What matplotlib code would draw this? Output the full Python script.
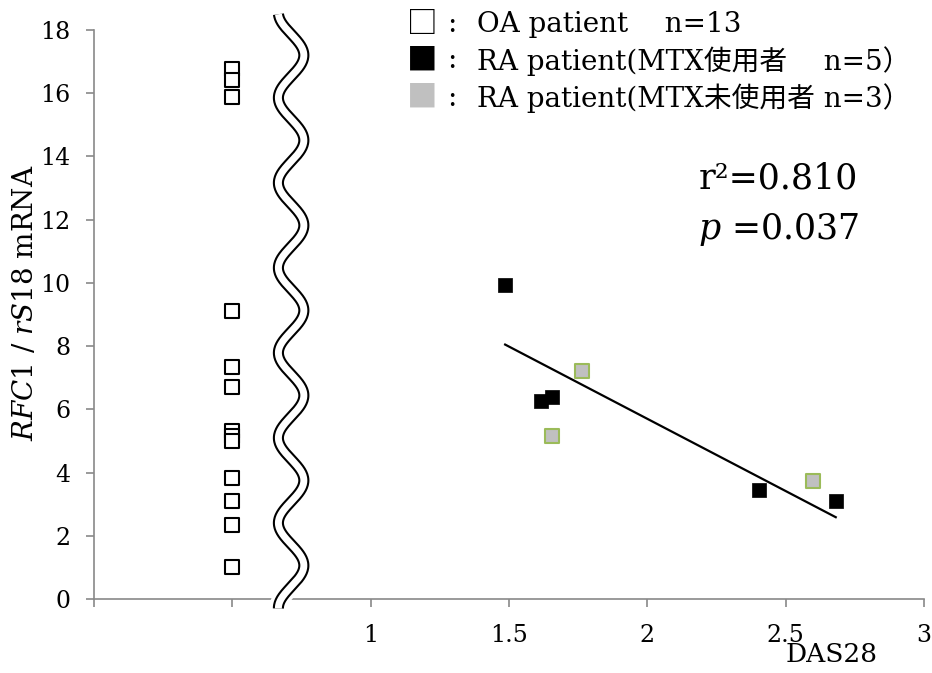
import numpy as np
import matplotlib.pyplot as plt

# OA patients, all plotted in one column
oa_x = 0.5
oa_y = [16.76, 16.41, 15.88, 9.10, 7.33, 6.70, 5.32, 5.16, 5.00, 3.84, 3.10, 2.33, 1.01]

# RA patients: DAS28 vs RFC1/rS18 mRNA
ra_mtx_x = [1.486, 1.615, 1.655, 2.402, 2.681]
ra_mtx_y = [9.93, 6.27, 6.40, 3.45, 3.11]
ra_nomtx_x = [1.764, 1.655, 2.600]
ra_nomtx_y = [7.22, 5.17, 3.73]

# regression line drawn over the RA data
fit_slope = -4.57
fit_intercept = 14.84

x_ticks = [0, 0.5, 1, 1.5, 2, 2.5, 3]
x_ticklabels = ['', '', '1', '1.5', '2', '2.5', '3']
y_ticks = list(range(0, 19, 2))

serif = ['DejaVu Serif', 'Noto Sans CJK JP']
plt.rcParams['font.family'] = serif
plt.rcParams['mathtext.fontset'] = 'custom'
plt.rcParams['mathtext.rm'] = 'DejaVu Serif'
plt.rcParams['mathtext.it'] = 'DejaVu Serif:italic'

axis_gray = '#898989'

fig = plt.figure(figsize=(9.32, 6.73), dpi=100)
ax = fig.add_axes([94 / 932, 74 / 673, 830 / 932, 569 / 673])
ax.set_xlim(0, 3)
ax.set_ylim(0, 18)

for side in ['top', 'right']:
    ax.spines[side].set_visible(False)
for side in ['left', 'bottom']:
    ax.spines[side].set_color(axis_gray)
    ax.spines[side].set_linewidth(1.2)

ax.set_xticks(x_ticks)
ax.set_xticklabels(x_ticklabels)
ax.set_yticks(y_ticks)
ax.tick_params(axis='both', colors=axis_gray, labelcolor='black',
               labelsize=17, length=6, width=1.2)
ax.tick_params(axis='x', pad=12)
ax.tick_params(axis='y', pad=11)

# scatter points
ax.scatter([oa_x] * len(oa_y), oa_y, marker='s', s=88, facecolor='white',
           edgecolor='black', linewidth=1.5, zorder=3)
ax.scatter(ra_mtx_x, ra_mtx_y, marker='s', s=110, facecolor='black',
           edgecolor='black', linewidth=0.5, zorder=3)
ax.scatter(ra_nomtx_x, ra_nomtx_y, marker='s', s=92, facecolor='#c0c0c0',
           edgecolor='#9bbb59', linewidth=1.5, zorder=3)

all_x = np.array(ra_mtx_x + ra_nomtx_x)
fx = np.array([all_x.min(), all_x.max()])
ax.plot(fx, fit_intercept + fit_slope * fx, color='black', lw=1.6, zorder=2)

# wavy axis break between OA column and DAS28 scale
wy = np.linspace(-0.3, 18.5, 800)
wx = 0.7125 + 0.046 * np.cos(2 * np.pi * (wy - 17.2) / 2.69)
ax.plot(wx, wy, color='white', lw=13, solid_capstyle='butt', clip_on=False, zorder=4)
ax.plot(wx, wy, color='black', lw=8.0, solid_capstyle='butt', clip_on=False, zorder=5)
ax.plot(wx, wy, color='white', lw=5.0, solid_capstyle='butt', clip_on=False, zorder=6)

# axis titles
fig.text(26 / 932, 1 - 303 / 673, r'$\mathit{RFC1\ /\ rS18}$ mRNA', rotation=90,
         ha='center', va='center', fontsize=20)
fig.text(832 / 932, 1 - 655 / 673, 'DAS28', ha='center', va='center', fontsize=19)

# statistics
fig.text(699 / 932, 1 - 179 / 673, 'r²=0.810', ha='left', va='center', fontsize=25)
fig.text(698 / 932, 1 - 230 / 673, r'$p$ =0.037', ha='left', va='center', fontsize=25)

# legend in the upper right
legend_rows = [
    ('□', 'black', 'OA patient\u3000 n=13'),
    ('■', 'black', 'RA patient(MTX使用者\u3000 n=5）'),
    ('■', '#c0c0c0', 'RA patient(MTX未使用者 n=3）'),
]
for i, (glyph, col, label) in enumerate(legend_rows):
    yy = 1 - (24 + 37 * i) / 673
    fig.text(422 / 932, yy, glyph, color=col, ha='center', va='center', fontsize=22,
             family='Noto Sans CJK JP')
    fig.text(452 / 932, yy, ':', ha='center', va='center', fontsize=20)
    fig.text(477 / 932, yy, label, ha='left', va='center', fontsize=20)

fig.savefig('out.png', dpi=100)
